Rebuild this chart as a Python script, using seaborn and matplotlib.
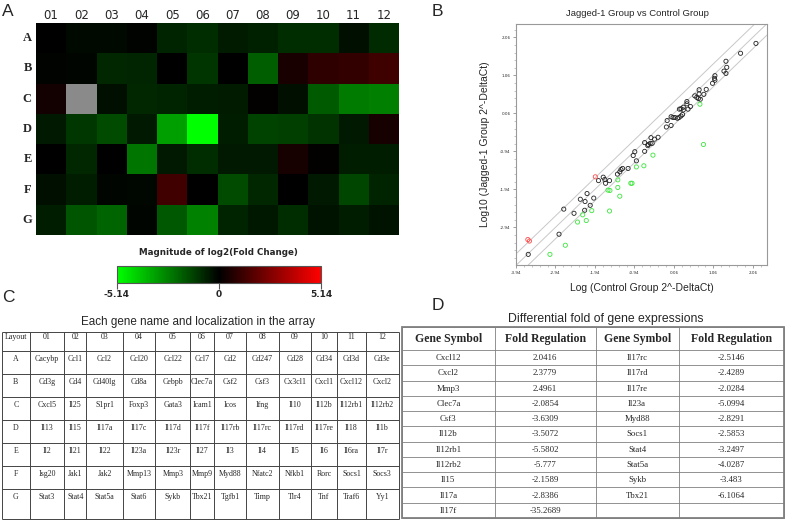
import numpy as np
import pandas as pd
import matplotlib
matplotlib.use("Agg")
import matplotlib.pyplot as plt
from matplotlib.colors import LinearSegmentedColormap
from matplotlib.ticker import FixedLocator
import seaborn as sns

# ---------- A : log2(fold change) array ----------
heat_rows = ["A", "B", "C", "D", "E", "F", "G"]
heat_cols = ["01", "02", "03", "04", "05", "06", "07", "08", "09", "10", "11", "12"]
nan = np.nan
log2_fc = [
    [0.00, -0.20, -0.20, -0.08, -0.70, -0.90, -0.55, -0.65, -0.90, -0.90, -0.30, -0.85],
    [-0.05, -0.10, -0.80, -0.75, 0.02, -1.06, 0.02, -1.86, 0.50, 0.93, 1.03, 1.25],
    [0.40, nan, -0.30, -0.80, -0.70, -0.60, -0.55, 0.05, -0.30, -1.81, -2.48, -2.53],
    [-0.50, -1.11, -1.50, -0.50, -3.20, -5.14, -0.60, -1.33, -1.28, -1.02, -0.50, 0.45],
    [0.02, -0.80, 0.00, -2.35, -0.50, -0.90, -0.50, -0.50, 0.45, 0.08, -0.60, -0.60],
    [-0.30, -0.60, -0.10, -0.15, 1.32, 0.00, -1.50, -0.80, 0.00, -0.50, -1.37, -0.70],
    [-0.60, -1.70, -2.01, -0.10, -1.80, -2.61, -0.70, -0.45, -0.90, -0.40, -0.60, -0.40],
]
cbar_ticks = [-5.14, 0, 5.14]

# ---------- B : scatter log10(2^-dCt) ----------
ctrl_ns = [2.14, 1.75, 1.38, 1.40, 1.33, 1.38, 1.10, 1.09, 1.10, 1.04,
           0.88, 0.70, 0.82, 0.70, 0.59, 0.64, 0.68, 0.73, 0.48, 0.39,
           0.39, 0.42, 0.30, 0.24, 0.30, 0.20, 0.28, 0.24, 0.19, 0.15,
           0.09, 0.04, -0.01, -0.11, -0.01, -0.13, -0.34, -0.52, -0.43, -0.68,
           -0.54, -0.49, -0.59, -0.60, -0.68, -0.93, -0.97, -0.89, -1.10, -1.24,
           -1.28, -1.31, -1.37, -1.73, -1.69, -1.85, -1.67, -1.57, -2.14, -2.31,
           -1.97, -2.19, -2.06, -2.20, -2.73, -2.47, -2.85, -3.63]
jag_ns = [1.90, 1.64, 1.43, 1.27, 1.17, 1.11, 1.05, 0.98, 0.93, 0.85,
          0.69, 0.68, 0.56, 0.57, 0.52, 0.48, 0.45, 0.43, 0.24, 0.37,
          0.31, 0.17, 0.22, 0.18, 0.15, 0.17, 0.03, -0.01, -0.05, -0.07,
          -0.05, -0.05, -0.03, -0.13, -0.26, -0.30, -0.57, -0.58, -0.62, -0.71,
          -0.73, -0.73, -0.76, -0.79, -0.94, -0.95, -1.05, -1.19, -1.39, -1.39,
          -1.42, -1.48, -1.54, -1.62, -1.68, -1.71, -1.78, -1.71, -2.05, -2.20,
          -2.17, -2.26, -2.36, -2.49, -2.46, -2.57, -3.12, -3.65]
ctrl_up = [-1.93, -3.64, -3.60]
jag_up = [-1.61, -3.26, -3.30]
ctrl_down = [0.72, 0.81, -0.47, -0.89, -0.70, -1.36, -1.36, -1.61, -1.56, -1.03,
             -1.00, -1.31, -2.02, -1.57, -2.25, -2.38, -2.16, -2.69, -3.08]
jag_down = [0.30, -0.76, -1.04, -1.35, -1.32, -1.69, -1.89, -1.96, -1.97, -1.78,
            -1.78, -2.12, -2.50, -2.51, -2.61, -2.80, -2.76, -3.41, -3.65]
fold_cutoff = 2
b_ticks = [-3.94, -2.94, -1.94, -0.94, 0.06, 1.06, 2.06]

# ---------- C : gene layout ----------
layout_genes = [
    ["Cacybp", "Ccl1", "Ccl2", "Ccl20", "Ccl22", "Ccl7", "Cd2", "Cd247", "Cd28", "Cd34", "Cd3d", "Cd3e"],
    ["Cd3g", "Cd4", "Cd40lg", "Cd8a", "Cebpb", "Clec7a", "Csf2", "Csf3", "Cx3cl1", "Cxcl1", "Cxcl12", "Cxcl2"],
    ["Cxcl5", "Il25", "S1pr1", "Foxp3", "Gata3", "Icam1", "Icos", "Ifng", "Il10", "Il12b", "Il12rb1", "Il12rb2"],
    ["Il13", "Il15", "Il17a", "Il17c", "Il17d", "Il17f", "Il17rb", "Il17rc", "Il17rd", "Il17re", "Il18", "Il1b"],
    ["Il2", "Il21", "Il22", "Il23a", "Il23r", "Il27", "Il3", "Il4", "Il5", "Il6", "Il6ra", "Il7r"],
    ["Isg20", "Jak1", "Jak2", "Mmp13", "Mmp3", "Mmp9", "Myd88", "Nfatc2", "Nfkb1", "Rorc", "Socs1", "Socs3"],
    ["Stat3", "Stat4", "Stat5a", "Stat6", "Sykb", "Tbx21", "Tgfb1", "Timp", "Tlr4", "Tnf", "Traf6", "Yy1"],
]

# ---------- D : differential fold ----------
genes_left = ["Cxcl12", "Cxcl2", "Mmp3", "Clec7a", "Csf3", "Il12b", "Il12rb1", "Il12rb2", "Il15", "Il17a", "Il17f"]
fold_left = [2.0416, 2.3779, 2.4961, -2.0854, -3.6309, -3.5072, -5.5802, -5.777, -2.1589, -2.8386, -35.2689]
genes_right = ["Il17rc", "Il17rd", "Il17re", "Il23a", "Myd88", "Socs1", "Stat4", "Stat5a", "Sykb", "Tbx21"]
fold_right = [-2.5146, -2.4289, -2.0284, -5.0994, -2.8291, -2.5853, -3.2497, -4.0287, -3.483, -6.1064]

W, H = 793, 521


def box(l, t, r, b):
    # pixel box -> figure fraction
    return [l / W, 1 - b / H, (r - l) / W, (b - t) / H]


def draw_table(ax, cells, col_w, row_h, size, text_pos, header_bold=False,
               line_color="#444444", lw=0.7, edge_lw=None):
    xe = np.concatenate([[0], np.cumsum(col_w)])
    ye = np.concatenate([[0], np.cumsum(row_h)])
    ax.set_xlim(0, xe[-1])
    ax.set_ylim(ye[-1], 0)
    ax.axis("off")
    ax.vlines(xe, 0, ye[-1], colors=line_color, lw=lw, clip_on=False)
    ax.hlines(ye, 0, xe[-1], colors=line_color, lw=lw, clip_on=False)
    if edge_lw:
        ax.add_patch(plt.Rectangle((0, 0), xe[-1], ye[-1], fill=False,
                                   ec=line_color, lw=edge_lw, clip_on=False))
    for i, row in enumerate(cells):
        for j, txt in enumerate(row):
            cx = (xe[j] + xe[j + 1]) / 2
            bold = header_bold and i == 0
            if text_pos == "top":
                ax.text(cx, ye[i] + (1.0 if i == 0 else 4.0), txt, ha="center", va="top",
                        fontsize=size, family="Liberation Serif")
            else:
                ax.text(cx, (ye[i] + ye[i + 1]) / 2 + 0.5, txt, ha="center", va="center",
                        fontsize=size + (2.2 if bold else 0), family="Liberation Serif",
                        fontweight="bold" if bold else "normal")


sns.set_theme(style="white")
plt.rcParams["font.family"] = ["DejaVu Sans"]

fig = plt.figure(figsize=(W / 100, H / 100), dpi=100)

# ---------------- panel A ----------------
axA = fig.add_axes(box(36, 23, 399, 235))
caxA = fig.add_axes(box(117, 266, 321, 283))
cmap = LinearSegmentedColormap.from_list("gkr", ["#00ff00", "#000000", "#ff0000"])
df_heat = pd.DataFrame(log2_fc, index=heat_rows, columns=heat_cols)
sns.heatmap(df_heat, ax=axA, cmap=cmap, vmin=-5.14, vmax=5.14, cbar_ax=caxA,
            cbar_kws={"orientation": "horizontal", "ticks": cbar_ticks})
axA.set_facecolor("#8a8a8a")
axA.xaxis.tick_top()
axA.tick_params(axis="x", length=0, pad=1)
axA.tick_params(axis="y", length=0, pad=3)
axA.set_xticklabels(heat_cols, rotation=0, fontsize=8.5)
axA.set_yticklabels(heat_rows, rotation=0, fontsize=9, family="Liberation Serif", fontweight="bold")
axA.set_xlabel("")
axA.set_ylabel("")

cbar = axA.collections[0].colorbar
cbar.outline.set_edgecolor("#555555")
cbar.outline.set_linewidth(0.8)
caxA.tick_params(axis="x", length=4, width=0.8, color="#555555", pad=1)
caxA.set_xticklabels(["-5.14", "0", "5.14"], fontsize=6.5, fontweight="bold")
fig.text(218 / W, 1 - 253 / H, "Magnitude of log2(Fold Change)", ha="center", va="center",
         fontsize=6.3, fontweight="bold")

# ---------------- panel B ----------------
axB = fig.add_axes(box(516, 24, 767, 265))
df_sc = pd.DataFrame({
    "control": ctrl_ns + ctrl_up + ctrl_down,
    "jagged": jag_ns + jag_up + jag_down,
    "group": ["ns"] * len(ctrl_ns) + ["up"] * len(ctrl_up) + ["down"] * len(ctrl_down),
})
for off in [0, np.log10(fold_cutoff), -np.log10(fold_cutoff)]:
    axB.axline((0, off), slope=1, color="#c8c8c8", lw=0.7, zorder=1)
sns.scatterplot(data=df_sc, x="control", y="jagged", hue="group", ax=axB, legend=False,
                palette={"ns": "#222222", "up": "#ff4a4a", "down": "#3ce63c"}, s=9, zorder=3)
pts = axB.collections[0]
pts.set_edgecolors(pts.get_facecolors())
pts.set_facecolors("none")
pts.set_linewidths(0.6)

axB.set_xlim(-3.94, 2.42)
axB.set_ylim(-3.93, 2.41)
axB.set_xticks(b_ticks)
axB.set_yticks(b_ticks[1:])
axB.set_xticklabels([f"{t:.2f}" for t in b_ticks])
axB.set_yticklabels([f"{t:.2f}" for t in b_ticks[1:]])
axB.xaxis.set_minor_locator(FixedLocator(np.arange(-3.94, 2.42, 0.2)))
axB.yaxis.set_minor_locator(FixedLocator(np.arange(-3.94, 2.42, 0.2)))
axB.tick_params(which="major", direction="out", length=2.5, width=0.5, color="#777777",
                labelsize=3, pad=1.5, bottom=True, left=True)
axB.tick_params(which="minor", direction="out", length=1.3, width=0.4, color="#999999",
                bottom=True, left=True)
for sp in axB.spines.values():
    sp.set_color("#999999")
    sp.set_linewidth(0.8)
axB.set_xlabel("Log (Control Group 2^-DeltaCt)", fontsize=7.5, labelpad=6, family="Liberation Sans")
axB.set_ylabel("Log10 (Jagged-1 Group 2^-DeltaCt)", fontsize=7.5, labelpad=7, family="Liberation Sans")
fig.text(637 / W, 1 - 14 / H, "Jagged-1 Group vs Control Group", ha="center", va="center",
         fontsize=6.8, family="Liberation Sans")

# ---------------- panel C ----------------
axC = fig.add_axes(box(2, 332, 399, 519))
c_cells = [["Layout"] + heat_cols] + [[r] + genes for r, genes in zip(heat_rows, layout_genes)]
c_colw = np.array([83, 104, 66, 109, 98, 105, 70, 97, 98, 95, 80, 85, 100]) / 3
c_rowh = [19, 23, 23, 23, 23, 23, 23, 30]
draw_table(axC, c_cells, c_colw, c_rowh, 5.7, "top")
fig.text(198 / W, 1 - 322 / H, "Each gene name and localization in the array", ha="center",
         va="center", fontsize=8.4, family="Liberation Sans")

# ---------------- panel D ----------------
axD = fig.add_axes(box(402, 327, 784, 518))
d_cells = [["Gene Symbol", "Fold Regulation", "Gene Symbol", "Fold Regulation"]]
for i, g in enumerate(genes_left):
    right = [genes_right[i], f"{fold_right[i]:g}"] if i < len(genes_right) else ["", ""]
    d_cells.append([g, f"{fold_left[i]:g}"] + right)
d_colw = np.array([278, 302, 250, 315]) / 3
d_rowh = [23] + [15.3] * len(genes_left)
draw_table(axD, d_cells, d_colw, d_rowh, 6.3, "center", header_bold=True,
           line_color="#808080", lw=0.6, edge_lw=1.3)
fig.text(606 / W, 1 - 319 / H, "Differential fold of gene expressions", ha="center",
         va="center", fontsize=8.8, family="Liberation Sans")

# panel letters
for letter, x, y in [("A", 2, 12), ("B", 432, 12), ("C", 2, 297), ("D", 432, 306)]:
    fig.text(x / W, 1 - y / H, letter, ha="left", va="center", fontsize=12.5,
             family="Liberation Sans")

fig.savefig("out.png", dpi=100)
